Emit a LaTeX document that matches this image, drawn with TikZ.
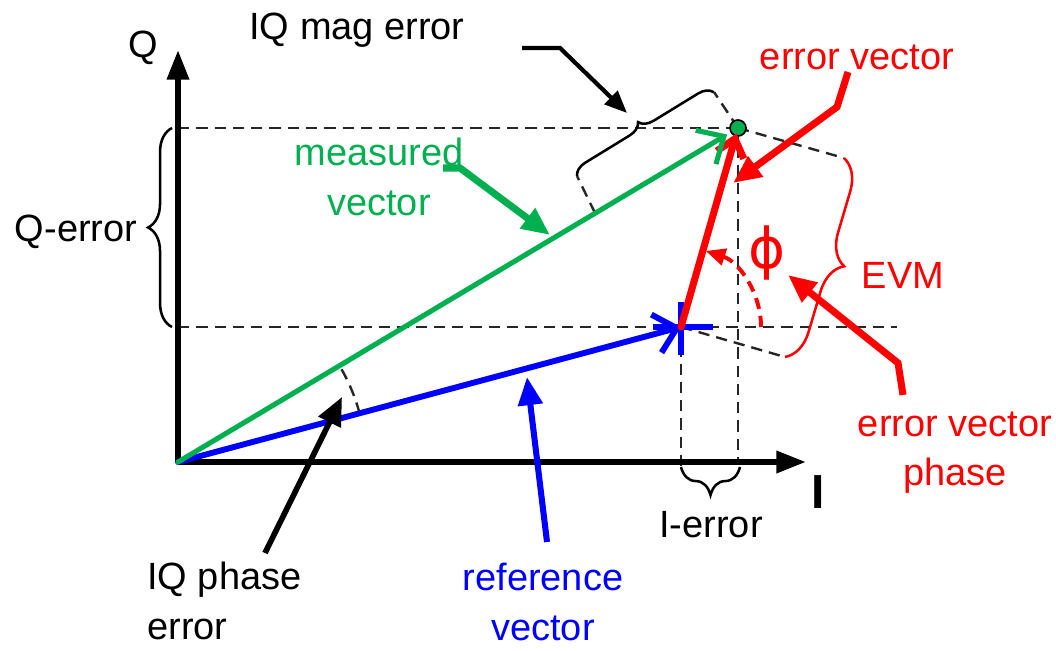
\documentclass[tikz,border=0pt]{standalone}
\usepackage{fontspec}
\setmainfont{Liberation Sans}
\newfontfamily\symfont{DejaVu Sans}
\usetikzlibrary{arrows.meta,decorations.pathreplacing}
\definecolor{measgreen}{RGB}{0,176,80}

\begin{document}
\begin{tikzpicture}[
  x=0.025cm, y=-0.025cm,
  every node/.style={font=\fontsize{27}{35}\selectfont, inner sep=0pt, align=center},
  axis/.style={line width=4.3pt, -{Triangle[length=21pt,width=15pt]}},
  guide/.style={black!85, line width=1.7pt, dash pattern=on 8pt off 5pt},
  vec/.style={line cap=round, -{Straight Barb[length=15pt,width=28pt]}},
  callout/.style={line width=5pt, -{Triangle[length=20pt,width=17pt]}},
  thincallout/.style={line width=3pt, -{Triangle[length=16pt,width=13pt]}},
  bracket/.style={line width=1.8pt, decorate, decoration={brace, amplitude=#1}}
]
\useasboundingbox (0,0) rectangle (1056,650);

% points of the constellation
\coordinate (O) at (178,462);
\coordinate (M) at (738,128);
\coordinate (R) at (681,327);
\coordinate (Qtip) at (178,50);
\coordinate (Itip) at (806,462);
\coordinate (Qhi) at (178,128);
\coordinate (Qlo) at (178,327);
\coordinate (Mfoot) at (738,462);
\coordinate (Rfoot) at (681,466);
\coordinate (Rright) at (897,327);
\coordinate (Mperp) at (844,158);
\coordinate (Rperp) at (785,357);
\coordinate (G1) at (595,213);
\coordinate (mag1) at (577,176);
\coordinate (mag2) at (714,92);

% guide lines
\draw[guide] (Qhi) -- (M);
\draw[guide] (Qlo) -- (Rright);
\draw[guide] (M) -- (Mfoot);
\draw[guide] (R) -- (Rfoot);
\draw[guide] (M) -- (Mperp);
\draw[guide] (R) -- (Rperp);
\draw[guide] (G1) -- (mag1);
\draw[guide] (M) -- (mag2);
\draw[guide] (O) ++(-15:188) arc[start angle=-15, end angle=-31, radius=188];

% axes
\draw[axis] (O) -- (Qtip);
\draw[axis] (O) -- (Itip);

% vectors
\draw[fill=measgreen, line width=1.2pt] (M) circle[radius=8];
\draw[vec, blue, line width=4.2pt] (O) -- (R);
\draw[blue, line width=4.5pt] (R) ++(-28,0) -- ++(60,0);
\draw[blue, line width=4.5pt] (R) ++(0,-25) -- ++(0,53);
\draw[red, line width=5pt, line cap=round, shorten >=4pt,
  -{Straight Barb[length=12pt,width=20pt]}] (R) -- (M);
\draw[vec, measgreen, line width=3.6pt, shorten >=9pt] (O) -- (M);
\draw[red, line width=2.8pt, dash pattern=on 8pt off 5pt,
  -{Triangle[length=14pt,width=12pt]}] (R) ++(0:80) arc[start angle=0, end angle=-72, radius=80];

% braces
\draw[bracket=17pt] (172,327) -- (172,128);
\draw[bracket=20pt] (740,467) -- (681,467);
\draw[bracket=10pt] (mag1) -- (mag2);
\draw[bracket=22pt, red] (Mperp) -- (Rperp);

% labels
\node (qlab) at (143,48) {Q};
\node (ilab) at (818,492) {\fontsize{34}{40}\selectfont\bfseries I};
\node (magerr) at (357,30) {IQ mag error};
\node[red] (errvec) at (857,57) {error vector};
\node[measgreen] (meas) at (379,177) {measured\\vector};
\node (qerr) at (76,232) {Q-error};
\node[red] (evm) at (903,275) {EVM};
\node[red] (phi) at (767,253) {\fontsize{40}{44}\selectfont\symfont ϕ};
\node[red] (evphase) at (955,453) {error vector\\phase};
\node (ierr) at (711,525) {I-error};
\node[anchor=west, align=left] (iqph) at (147,601) {IQ phase\\error};
\node[blue] (refvec) at (543,602) {reference\\vector};

% callout arrows
\coordinate (magA) at (522,48);
\coordinate (magB) at (560,48);
\coordinate (magC) at (627,113);
\draw[thincallout] (magA) -- (magB) -- (magC);
\coordinate (evA) at (848,72);
\coordinate (evB) at (837,107);
\coordinate (evC) at (733,183);
\draw[callout, red] (evA) -- (evB) -- (evC);
\coordinate (measA) at (443,168);
\coordinate (measB) at (460,168);
\coordinate (measC) at (550,235);
\draw[callout, measgreen] (measA) -- (measB) -- (measC);
\coordinate (phA) at (903,395);
\coordinate (phB) at (898,363);
\coordinate (phC) at (788,275);
\draw[callout, red] (phA) -- (phB) -- (phC);
\coordinate (iqA) at (265,553);
\coordinate (iqB) at (342,397);
\draw[callout, line width=4pt] (iqA) -- (iqB);
\coordinate (refA) at (547,542);
\coordinate (refB) at (527,377);
\draw[callout, blue, line width=4.3pt] (refA) -- (refB);
\end{tikzpicture}
\end{document}
